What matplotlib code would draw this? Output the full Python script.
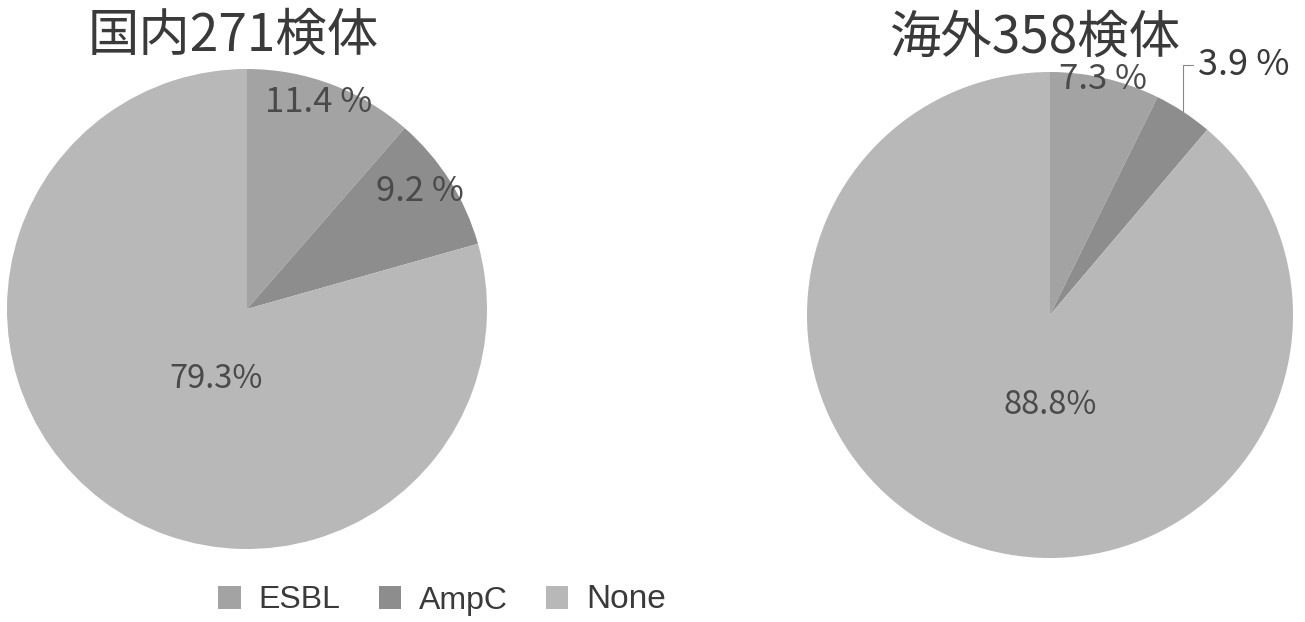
import numpy as np
import matplotlib
matplotlib.use('Agg')
import matplotlib.pyplot as plt

plt.rcParams['font.family'] = ['Noto Sans CJK JP', 'DejaVu Sans']

categories = ['ESBL', 'AmpC', 'None']
domestic = [11.4, 9.2, 79.3]
overseas = [7.3, 3.9, 88.8]
domestic_labels = ['11.4 %', '9.2 %', '79.3%']
overseas_labels = ['7.3 %', '3.9 %', '88.8%']
titles = ['国内271検体', '海外358検体']

colors = ['#a3a3a3', '#8d8d8d', '#b8b8b8']
W, H = 1305, 622


def px_axes(fig, cx, cy, r):
    # axes whose unit circle sits at pixel centre (cx, cy) with radius r
    return fig.add_axes([(cx - r) / W, (H - cy - r) / H, 2 * r / W, 2 * r / H])


def draw_pie(ax, vals, labels, spots, sizes):
    wedges, _ = ax.pie(vals, colors=colors, startangle=90, counterclock=False,
                       radius=1, wedgeprops=dict(linewidth=0))
    ax.set_xlim(-1, 1)
    ax.set_ylim(-1, 1)
    ax.set_aspect('equal')
    ax.axis('off')
    for lab, xy, fs in zip(labels, spots, sizes):
        if xy is None:
            continue
        ax.text(xy[0], xy[1], lab, ha='center', va='center',
                fontsize=fs, color='#4a4a4a')
    return wedges


fig = plt.figure(figsize=(W / 100, H / 100), dpi=100)

ax1 = px_axes(fig, 247, 309, 240)
wedges = draw_pie(ax1, domestic, domestic_labels,
                  [(0.30, 0.86), (0.72, 0.49), (-0.13, -0.29)], [25, 25, 23.5])

ax2 = px_axes(fig, 1050, 315, 243)
draw_pie(ax2, overseas, overseas_labels,
         [(0.22, 0.97), None, (0.0, -0.37)], [25, 25, 23.5])

# AmpC slice on the right is too thin for an inside label: use a leader line
cum = np.cumsum(overseas)
a = np.deg2rad(90 - (cum[0] + overseas[1] / 2) * 3.6)
ax2.annotate(overseas_labels[1], xy=(np.cos(a), np.sin(a)), xytext=(0.61, 1.03),
             ha='left', va='center', fontsize=26, color='#3a3a3a',
             annotation_clip=False,
             arrowprops=dict(arrowstyle='-', color='#888888', lw=0.8,
                             connectionstyle='angle,angleA=0,angleB=90,rad=0',
                             shrinkA=2, shrinkB=0))

fig.text(233 / W, 1 - 36 / H, titles[0], ha='center', va='center',
         fontsize=37, color='#3a3a3a')
fig.text(1035 / W, 1 - 38 / H, titles[1], ha='center', va='center',
         fontsize=37, color='#3a3a3a')

leg = fig.legend(wedges, categories, loc='center', bbox_to_anchor=(442 / W, 1 - 600 / H),
                 ncol=3, frameon=False, handlelength=0.7, handleheight=0.7,
                 handletextpad=0.55, columnspacing=1.2,
                 prop={'family': ['Liberation Sans', 'DejaVu Sans'], 'size': 23})
sizes = [23, 23, 24]
for t, s in zip(leg.get_texts(), sizes):
    t.set_fontsize(s)
    t.set_color('#3a3a3a')

fig.savefig('out.png', dpi=100)
